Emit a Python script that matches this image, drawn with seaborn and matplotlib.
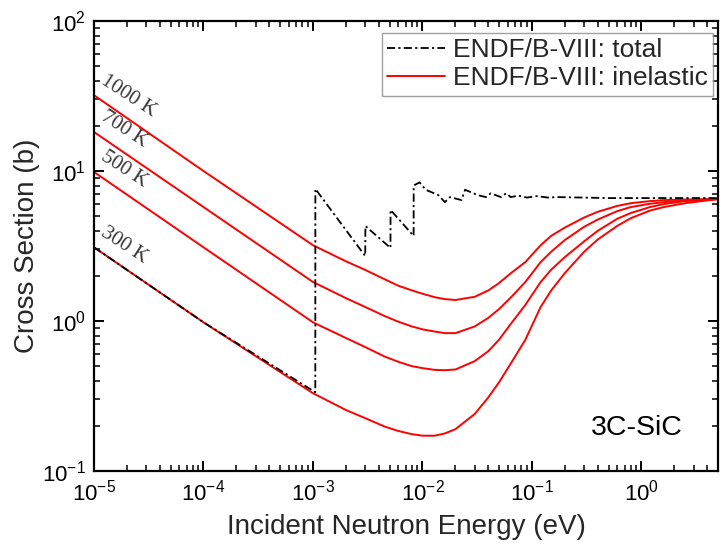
import numpy as np
import pandas as pd
import matplotlib
matplotlib.use("Agg")
import matplotlib.pyplot as plt
import seaborn as sns
from matplotlib.lines import Line2D
from matplotlib.ticker import LogLocator, NullFormatter, LogFormatterMathtext

# Energy grid (eV) for the thermal inelastic cross sections
energy_ev = [1e-5, 1e-4, 1e-3, 2e-3, 3e-3, 4.5e-3, 6e-3, 8e-3, 0.01, 0.013, 0.016,
             0.02, 0.03, 0.04, 0.05, 0.065, 0.087, 0.12, 0.15, 0.2, 0.3, 0.4,
             0.6, 0.8, 1.2, 1.6, 2.5, 5.0]

# Inelastic cross sections (b) per temperature
inel_1000K = [32.0, 10.0, 3.2, 2.5, 2.19, 1.9, 1.72, 1.6, 1.52, 1.44, 1.40,
              1.38, 1.45, 1.60, 1.79, 2.10, 2.47, 3.2, 3.7, 4.2, 4.9, 5.35,
              5.85, 6.1, 6.3, 6.4, 6.45, 6.5]
inel_700K = [18.2, 5.75, 1.82, 1.42, 1.24, 1.08, 0.99, 0.92, 0.88, 0.85, 0.83,
             0.83, 0.92, 1.05, 1.20, 1.45, 1.82, 2.47, 2.9, 3.47, 4.25, 4.75,
             5.4, 5.75, 6.05, 6.2, 6.35, 6.5]
inel_500K = [9.85, 3.1, 0.98, 0.77, 0.67, 0.58, 0.535, 0.50, 0.485, 0.472, 0.47,
             0.475, 0.54, 0.63, 0.75, 0.97, 1.28, 1.82, 2.2, 2.67, 3.4, 4.0,
             4.8, 5.25, 5.75, 6.02, 6.3, 6.5]
inel_300K = [3.1, 0.98, 0.33, 0.255, 0.225, 0.198, 0.185, 0.176, 0.172, 0.172, 0.178,
             0.19, 0.24, 0.31, 0.39, 0.53, 0.75, 1.24, 1.6, 2.09, 2.9, 3.5,
             4.3, 4.85, 5.45, 5.75, 6.1, 6.5]

temperatures = ["300 K", "500 K", "700 K", "1000 K"]
inelastic = [inel_300K, inel_500K, inel_700K, inel_1000K]

# Total cross section at 300 K with Bragg edges
total_energy = [1e-5, 1e-4, 1.05e-3, 1.051e-3, 3.0e-3, 3.01e-3, 5.1e-3, 5.11e-3,
                8.3e-3, 8.31e-3, 9.4e-3, 0.0107, 0.014, 0.016, 0.0178, 0.0227,
                0.0245, 0.032, 0.038, 0.042, 0.052, 0.058, 0.064, 0.075, 0.09,
                0.11, 0.14, 0.17, 0.5, 5.0]
total_xs = [3.1, 0.98, 0.335, 7.6, 2.71, 4.3, 3.07, 5.5,
            3.69, 8.0, 8.4, 7.5, 6.9, 6.2, 6.7, 6.4,
            7.5, 6.9, 6.7, 7.1, 6.7, 7.1, 6.7, 6.85, 6.65,
            6.8, 6.65, 6.7, 6.6, 6.6]

sns.set_theme(style="ticks")
plt.rcParams["font.family"] = ["Liberation Sans", "DejaVu Sans"]
plt.rcParams["mathtext.default"] = "regular"

fig = plt.figure(figsize=(7.26, 5.45), dpi=100)
ax = fig.add_axes([94 / 726, 1 - 471 / 545, (718 - 94) / 726, (471 - 21) / 545])

inel_df = pd.DataFrame({
    "energy": np.concatenate([energy_ev] * len(temperatures)),
    "xs": np.concatenate(inelastic),
    "temp": np.repeat(temperatures, len(energy_ev)),
})
sns.lineplot(data=inel_df, x="energy", y="xs", units="temp", estimator=None,
             sort=False, color="#ff0000", linewidth=1.4, ax=ax, legend=False)

dashdot = (0, (4.5, 1.8, 1.2, 1.8))
total_df = pd.DataFrame({"energy": total_energy, "xs": total_xs})
sns.lineplot(data=total_df, x="energy", y="xs", estimator=None, sort=False,
             color="black", linewidth=1.3, linestyle=dashdot, ax=ax, legend=False)

ax.set_xscale("log")
ax.set_yscale("log")
ax.set_xlim(1e-5, 5.0)
ax.set_ylim(0.1, 100)

ax.xaxis.set_major_locator(LogLocator(base=10, numticks=20))
ax.xaxis.set_minor_locator(LogLocator(base=10, subs=np.arange(2, 10), numticks=20))
ax.yaxis.set_major_locator(LogLocator(base=10, numticks=20))
ax.yaxis.set_minor_locator(LogLocator(base=10, subs=np.arange(2, 10), numticks=20))
ax.xaxis.set_major_formatter(LogFormatterMathtext())
ax.yaxis.set_major_formatter(LogFormatterMathtext())
ax.xaxis.set_minor_formatter(NullFormatter())
ax.yaxis.set_minor_formatter(NullFormatter())

ax.tick_params(which="both", direction="in", top=True, right=True,
               labelsize=16, colors="black")
ax.tick_params(which="major", length=7, width=1.4, pad=6)
ax.tick_params(which="minor", length=4, width=1.1)
for sp in ax.spines.values():
    sp.set_linewidth(1.6)
    sp.set_color("black")

ax.set_xlabel("Incident Neutron Energy (eV)", fontsize=20, labelpad=6)
ax.set_ylabel("Cross Section (b)", fontsize=20, labelpad=1)

# Temperature labels along the 1/v part of each curve
for name, vals in zip(temperatures, inelastic):
    ax.annotate(name, xy=(energy_ev[0], vals[0]), xytext=(4, 9),
                textcoords="offset points", rotation=-33, rotation_mode="anchor",
                ha="left", va="baseline", fontsize=15, color="#3a3a3a",
                family=["Liberation Serif", "DejaVu Serif"])

ax.text(0.944, 0.096, "3C-SiC", transform=ax.transAxes, ha="right",
        va="center", fontsize=20.5, color="black")

handles = [
    Line2D([], [], color="black", linewidth=1.3, linestyle=dashdot),
    Line2D([], [], color="#ff0000", linewidth=1.4),
]
leg = ax.legend(handles, ["ENDF/B-VIII: total", "ENDF/B-VIII: inelastic"],
                loc="upper right", bbox_to_anchor=(0.992, 0.973), fontsize=19,
                frameon=True, fancybox=False, handlelength=2.2,
                handletextpad=0.3, borderpad=0.2, labelspacing=0.15,
                borderaxespad=0.0)
leg.get_frame().set_edgecolor("#888888")
leg.get_frame().set_linewidth(1.0)

fig.savefig("out.png", dpi=100)
